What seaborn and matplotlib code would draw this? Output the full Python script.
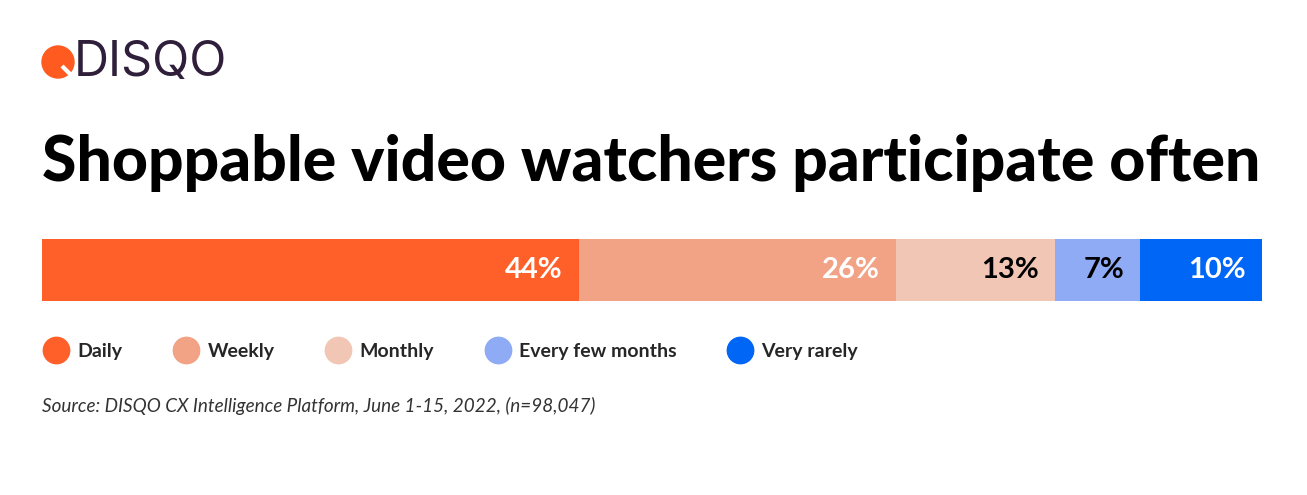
import numpy as np
import pandas as pd
import matplotlib
matplotlib.use('Agg')
import matplotlib.pyplot as plt
import seaborn as sns
from matplotlib.lines import Line2D
from matplotlib.patches import Circle

categories = ['Daily', 'Weekly', 'Monthly', 'Every few months', 'Very rarely']
values = [44, 26, 13, 7, 10]
colors = ['#FF6029', '#F2A285', '#F2C6B4', '#8FABF5', '#0066F5']
label_colors = ['white', 'white', 'black', 'black', 'white']

title = 'Shoppable video watchers participate often'
source = 'Source: DISQO CX Intelligence Platform, June 1-15, 2022, (n=98,047)'

sns.set_style('white')
plt.rcParams['font.family'] = ['Lato', 'DejaVu Sans']

df = pd.DataFrame({'cat': categories, 'val': values})
df['cum'] = df['val'].cumsum()

W, H = 1307, 495
fig = plt.figure(figsize=(W / 100, H / 100), dpi=100)
ax = fig.add_axes([42 / W, 1 - 301 / H, 1220 / W, 62 / H])

# stacked bar: draw cumulative totals from the largest down
for i in reversed(range(len(df))):
    sns.barplot(x=[df['cum'][i]], y=['all'], orient='h', color=colors[i],
                width=1, saturation=1, ax=ax, linewidth=0)

for i in range(len(df)):
    ax.text(df['cum'][i] - 1.3, 0, f"{df['val'][i]}%", ha='right', va='center',
            color=label_colors[i], fontsize=21, fontweight='bold')

ax.set_xlim(0, 100)
ax.set_ylim(0.5, -0.5)
ax.axis('off')

# logo
logo = fig.add_axes([0, 0, 1, 1], facecolor='none')
logo.set_xlim(0, W)
logo.set_ylim(H, 0)
logo.axis('off')
logo.add_patch(Circle((58, 62), 16, color='#FF5A1F'))
logo.plot([62, 72], [66, 76], color='white', lw=3, solid_capstyle='butt')
logo.text(74, 63, 'DISQO', color='#2F1F3A', fontsize=35, va='center', ha='left',
          family=['Inter', 'DejaVu Sans'])

fig.text(42 / W, 1 - 181 / H, title, fontsize=45, fontweight='black',
         color='black', ha='left', va='baseline', family=['Lato', 'DejaVu Sans'])

handles = [Line2D([], [], marker='o', ls='', markersize=19, color=c) for c in colors]
fig.legend(handles, categories, loc='center left', bbox_to_anchor=(28 / W, 1 - 351 / H),
           ncol=5, frameon=False, prop={'size': 14, 'weight': 'bold'},
           handletextpad=0.55, columnspacing=2.72, handlelength=1.1)

fig.text(42 / W, 1 - 406 / H, source, fontsize=13.6, style='italic', color='#333333',
         ha='left', va='center')

fig.savefig('out.png', dpi=100)
